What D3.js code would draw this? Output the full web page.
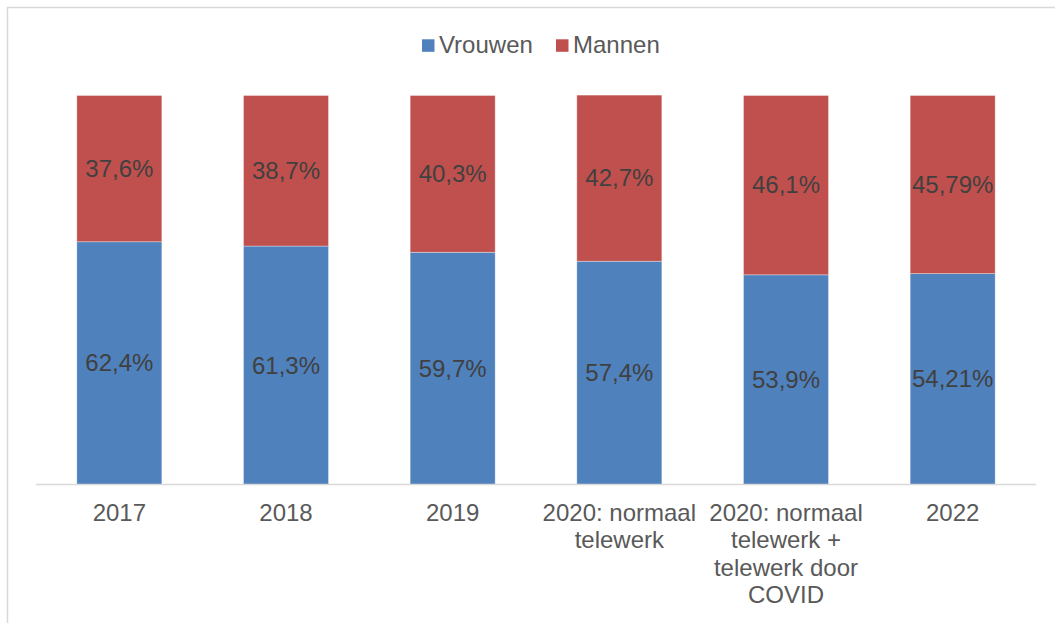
<!DOCTYPE html>
<html>
<head>
<meta charset="utf-8">
<script src="https://cdn.jsdelivr.net/npm/d3@7"></script>
<style>
  html, body { margin: 0; padding: 0; background: #fff; }
  svg { display: block; font-family: "Liberation Sans", Arial, sans-serif; }
</style>
</head>
<body>
<svg id="chart" width="1055" height="623"></svg>
<script>
// Share of teleworkers by gender, per survey year
const categories = [
  ["2017"],
  ["2018"],
  ["2019"],
  ["2020: normaal", "telewerk"],
  ["2020: normaal", "telewerk +", "telewerk door", "COVID"],
  ["2022"]
];
const vrouwen = [62.4, 61.3, 59.7, 57.4, 53.9, 54.21];
const mannen  = [37.6, 38.7, 40.3, 42.7, 46.1, 45.79];
const vrouwenLabels = ["62,4%", "61,3%", "59,7%", "57,4%", "53,9%", "54,21%"];
const mannenLabels  = ["37,6%", "38,7%", "40,3%", "42,7%", "46,1%", "45,79%"];
const seriesNames = ["Vrouwen", "Mannen"];
const colors = ["#4f81bd", "#c0504d"];

const svg = d3.select("#chart");

// outer frame
svg.append("rect")
  .attr("x", 7.5).attr("y", 7.5)
  .attr("width", 1055).attr("height", 630)
  .attr("fill", "none").attr("stroke", "#d9d9d9").attr("stroke-width", 1.5);

const keys = categories.map((c, i) => i);
const x = d3.scaleBand().domain(keys).range([36, 1036]).paddingInner(0.49).paddingOuter(0.245);
const y = d3.scaleLinear().domain([0, 100]).range([484.5, 95.5]);

const rows = keys.map(i => ({ i, Vrouwen: vrouwen[i], Mannen: mannen[i] }));
const stack = d3.stack().keys(seriesNames)(rows);
const labelSets = [vrouwenLabels, mannenLabels];

const g = svg.append("g");
stack.forEach((layer, si) => {
  g.selectAll(null).data(layer).enter().append("rect")
    .attr("x", d => x(d.data.i))
    .attr("width", x.bandwidth())
    .attr("y", d => y(d[1]))
    .attr("height", d => y(d[0]) - y(d[1]))
    .attr("fill", colors[si])
    .attr("stroke", "rgba(255,255,255,0.45)")
    .attr("stroke-width", 0.75);
});
stack.forEach((layer, si) => {
  g.selectAll(null).data(layer).enter().append("text")
    .attr("x", d => x(d.data.i) + x.bandwidth() / 2)
    .attr("y", d => (y(d[0]) + y(d[1])) / 2 + 8.3)
    .attr("text-anchor", "middle")
    .attr("font-size", 24)
    .attr("fill", "#404040")
    .text((d, j) => labelSets[si][j]);
});

// category axis
svg.append("line")
  .attr("x1", 36).attr("x2", 1036)
  .attr("y1", 484.5).attr("y2", 484.5)
  .attr("stroke", "#d9d9d9").attr("stroke-width", 1.5);

const ticks = svg.append("g").selectAll("text").data(keys).enter().append("text")
  .attr("x", i => x(i) + x.bandwidth() / 2)
  .attr("y", 521)
  .attr("text-anchor", "middle")
  .attr("font-size", 24)
  .attr("fill", "#595959");
ticks.each(function(i) {
  const t = d3.select(this);
  categories[i].forEach((line, k) => {
    t.append("tspan")
      .attr("x", x(i) + x.bandwidth() / 2)
      .attr("dy", k === 0 ? 0 : 27.3)
      .text(line);
  });
});

// legend
const legendPos = [422, 556];
const legend = svg.append("g").selectAll("g").data(seriesNames).enter().append("g")
  .attr("transform", (d, i) => `translate(${legendPos[i]},0)`);
legend.append("rect")
  .attr("x", 0).attr("y", 39.3)
  .attr("width", 12.5).attr("height", 12.5)
  .attr("fill", (d, i) => colors[i]);
legend.append("text")
  .attr("x", 17).attr("y", 52.5)
  .attr("font-size", 24)
  .attr("fill", "#595959")
  .text(d => d);
</script>
</body>
</html>
